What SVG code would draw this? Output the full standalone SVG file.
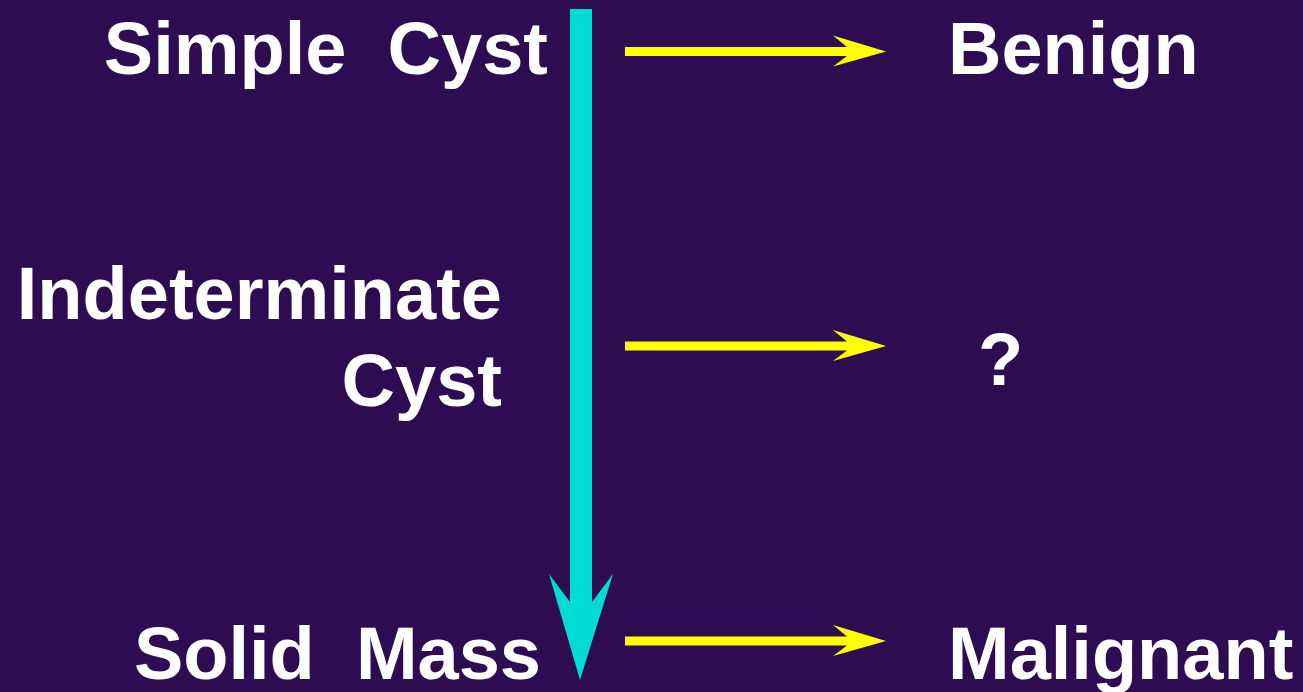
<svg xmlns="http://www.w3.org/2000/svg" width="1303" height="692" viewBox="0 0 1303 692">
<style>
.t{font-family:"Liberation Sans",Arial,sans-serif;font-weight:bold;font-size:74px;fill:#ffffff;white-space:pre}
.y{fill:#ffff00}
</style>
<defs>
<path id="ya" d="M625 -4.5 H847 L833 -16 L886 0 L833 15 L847 4.5 H625 Z"/>
</defs>
<rect width="1303" height="692" fill="#2e0c52"/>
<g id="connectors">
<path id="axis" d="M570 9 H592 V602 L613 574 L580 680 L549 574 L570 602 Z" fill="#00dcd4"/>
<use href="#ya" class="y" transform="translate(0,51.5)"/>
<use href="#ya" class="y" transform="translate(0,346)"/>
<use href="#ya" class="y" transform="translate(0,641)"/>
</g>
<g id="simple"><text class="t" x="548" y="74" text-anchor="end" xml:space="preserve">Simple  Cyst</text></g>
<g id="indeterminate"><text class="t" x="502" y="319" text-anchor="end">Indeterminate</text><text class="t" x="502" y="406" text-anchor="end">Cyst</text></g>
<g id="solid"><text class="t" x="541" y="679" text-anchor="end" xml:space="preserve">Solid  Mass</text></g>
<g id="benign"><text class="t" x="948" y="74">Benign</text></g>
<g id="unknown"><text class="t" x="978" y="385">?</text></g>
<g id="malignant"><text class="t" x="948" y="679">Malignant</text></g>
</svg>
